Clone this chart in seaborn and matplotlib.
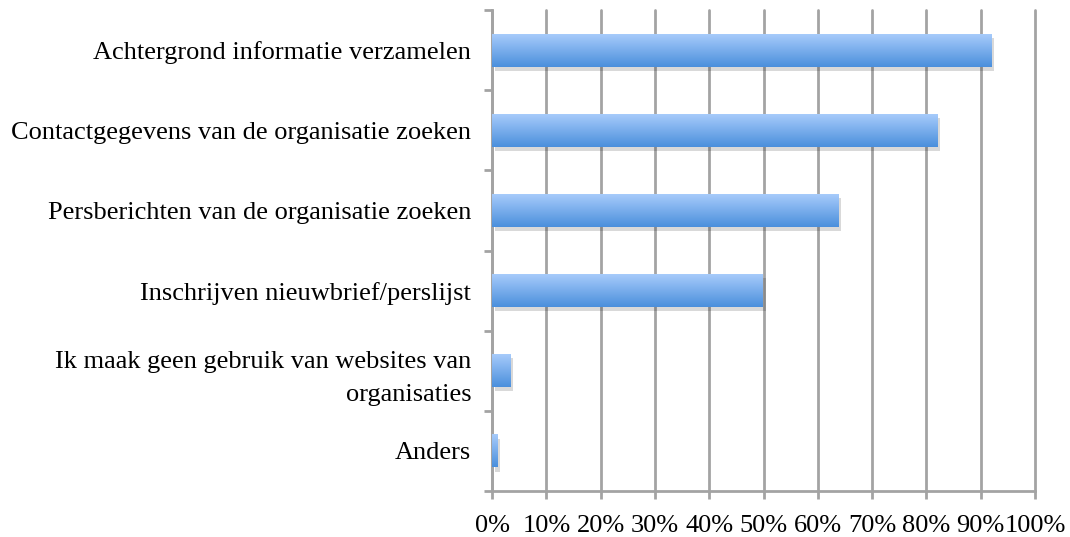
import numpy as np
import pandas as pd
import matplotlib
matplotlib.use("Agg")
import matplotlib.pyplot as plt
import matplotlib.patheffects as pe
from matplotlib.colors import LinearSegmentedColormap
import seaborn as sns

categories = [
    "Achtergrond informatie verzamelen",
    "Contactgegevens van de organisatie zoeken",
    "Persberichten van de organisatie zoeken",
    "Inschrijven nieuwbrief/perslijst",
    "Ik maak geen gebruik van websites van\norganisaties",
    "Anders",
]
values = [92.0, 82.0, 63.8, 49.9, 3.4, 1.0]
xticks = [0, 10, 20, 30, 40, 50, 60, 70, 80, 90, 100]
xtick_labels = [f"{v}%" for v in xticks]

sns.set_theme(style="white")
plt.rcParams["font.family"] = ["Liberation Serif", "DejaVu Serif"]

df = pd.DataFrame({"cat": categories, "val": values})

fig = plt.figure(figsize=(10.70, 5.37), dpi=100)
ax = fig.add_axes([492/1070, 1 - 491/537, 543/1070, 481/537])

sns.barplot(data=df, y="cat", x="val", orient="h", ax=ax, width=0.41,
            color="#6FA8EC", saturation=1, linewidth=0, zorder=3)

grid_color = "#A3A3A3"
ax.set_xlim(0, 100)
ax.set_ylim(len(categories) - 0.5, -0.5)
ax.set_xticks(xticks)
ax.set_xticklabels(xtick_labels, fontsize=19)
ax.xaxis.grid(True, color=grid_color, linewidth=2, zorder=0)
for gl in ax.get_xgridlines():
    gl.set_clip_on(False)
ax.yaxis.grid(False)
ax.set_axisbelow(True)
ax.set_xlabel("")
ax.set_ylabel("")

ax.set_yticks(range(len(categories)))
ax.set_yticklabels(categories, fontsize=19, linespacing=1.65)
ax.set_yticks(np.arange(-0.5, len(categories), 1.0), minor=True)
ax.tick_params(axis="y", which="major", length=0, pad=15, colors="black")
ax.tick_params(axis="y", which="minor", length=6, width=2, color=grid_color, left=True)
ax.tick_params(axis="x", which="major", length=6, width=2, color=grid_color,
               bottom=True, pad=11)
ax.tick_params(axis="x", colors=grid_color, labelcolor="black")
for lbl in ax.get_yticklabels():
    lbl.set_horizontalalignment("right")

for s in ["top", "right"]:
    ax.spines[s].set_visible(False)
for s in ["left", "bottom"]:
    ax.spines[s].set_color(grid_color)
    ax.spines[s].set_linewidth(2)

cmap = LinearSegmentedColormap.from_list("bar", ["#A7CBFB", "#4A8FDC"])
grad = np.linspace(0, 1, 256).reshape(-1, 1)
for patch in ax.patches:
    patch.set_path_effects([pe.SimplePatchShadow(offset=(2, -3), shadow_rgbFace="#000000", alpha=0.15),
                            pe.Normal()])
    x0, y0 = patch.get_x(), patch.get_y()
    w, h = patch.get_width(), patch.get_height()
    im = ax.imshow(grad, extent=[x0, x0 + w, y0 + h, y0], aspect="auto",
                   cmap=cmap, origin="upper", zorder=4, interpolation="bilinear")
    im.set_clip_path(patch)

ax.set_xlim(0, 100)
ax.set_ylim(len(categories) - 0.5, -0.5)

fig.savefig("out.png", dpi=100)
